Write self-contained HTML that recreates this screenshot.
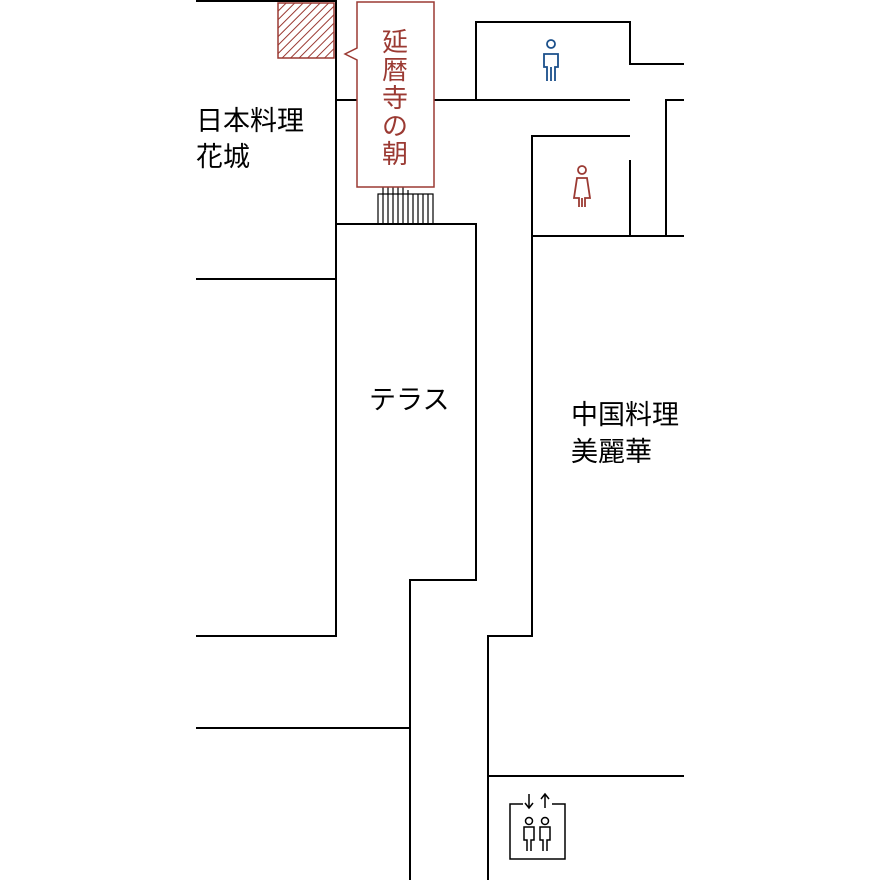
<!DOCTYPE html><html><head><style>body{margin:0;background:#fff}svg{display:block}</style></head><body>
<svg width="880" height="880" xmlns="http://www.w3.org/2000/svg" font-family="'Liberation Sans','Noto Sans CJK JP',sans-serif">
<defs><pattern id="h" width="6" height="6" patternUnits="userSpaceOnUse" patternTransform="rotate(45)"><line x1="0" y1="0" x2="0" y2="6" stroke="#9b3a33" stroke-width="2"/></pattern></defs>
<g stroke="#000" stroke-width="2" fill="none">
<path d="M196 1H336V636H196"/>
<path d="M196 279H336"/>
<path d="M336 100H630"/>
<path d="M476 100V22H630V64H684"/>
<path d="M684 100H666V236"/>
<path d="M630 136H532V636H488V880"/>
<path d="M630 160V236"/><path d="M532 236H684"/>
<path d="M336 224H476V580H410V880"/>
<path d="M196 728H410"/>
<path d="M488 776H684"/>
</g>
<rect x="278" y="3" width="56" height="55" fill="url(#h)" stroke="#9b3a33" stroke-width="1.5"/>
<g stroke="#000" stroke-width="1.2">
<rect x="378" y="194" width="55" height="30" fill="none"/>
<path d="M383 187V224M388 187V224M393 187V224M398 187V224M403 187V224M408 190V224M413 194V224M418 194V224M423 194V224M428 194V224"/>
</g>
<path d="M357 2H434V187H357V60L345 54L357 48Z" fill="#fff" stroke="#9b3a33" stroke-width="1.5"/>
<g fill="#9b3a33" font-size="26" text-anchor="middle">
<text x="395" y="51">延</text><text x="395" y="79">暦</text><text x="395" y="107">寺</text><text x="395" y="135">の</text><text x="395" y="163">朝</text>
</g>
<g fill="#000" font-size="27">
<text x="196" y="130">日本料理</text><text x="196" y="166">花城</text>
<text x="369" y="409">テラス</text>
<text x="571" y="424">中国料理</text><text x="571" y="461">美麗華</text>
</g>
<g fill="none" stroke="#1a4f8a" stroke-width="1.8">
<circle cx="551" cy="44" r="4"/>
<path d="M547 81V67H544V54H558V67H555V81M551 67V81"/>
</g>
<g fill="none" stroke="#9b3a33" stroke-width="1.8">
<circle cx="582" cy="170" r="4"/>
<path d="M579 207V198H574L577 178H587L590 198H585V207M582 198V207"/>
</g>
<g fill="none" stroke="#000" stroke-width="1.5">
<path d="M523 804H510V859H565V804H552"/>
<path d="M529 794V808M525 803L529 808L533 803M545 808V794M541 799L545 794L549 799"/>
<circle cx="529" cy="821" r="3.5"/><circle cx="545" cy="821" r="3.5"/>
<path d="M527 851V840H524V827H534V840H531V851M543 851V840H540V827H550V840H547V851"/>
</g>
</svg>
</body></html>
